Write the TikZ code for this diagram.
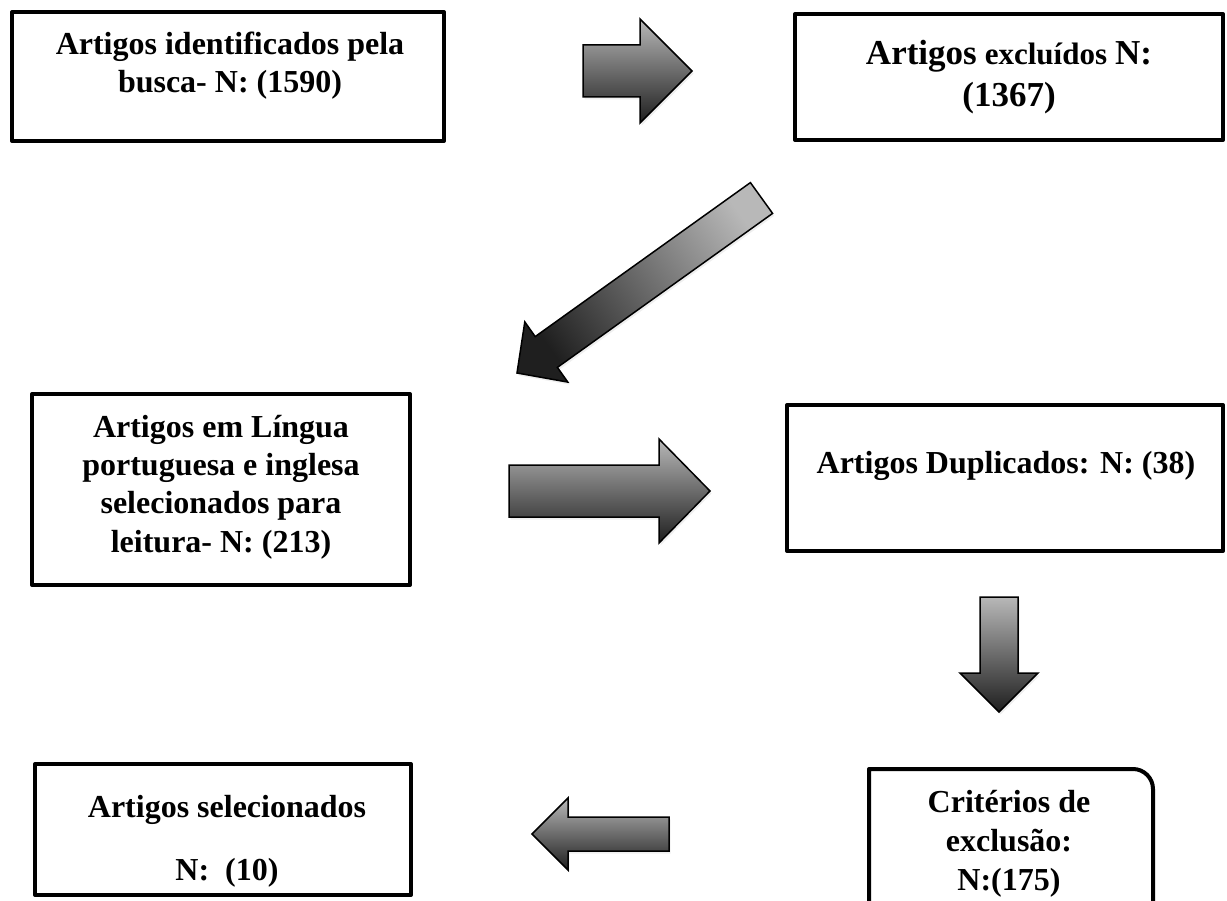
\documentclass[tikz,border=0pt]{standalone}
\usepackage{fontspec}
\setmainfont{Liberation Serif}
\usetikzlibrary{shadows}
\begin{document}
\begin{tikzpicture}[x=1pt,y=-1pt,
  boxline/.style={draw=black, line width=4pt, inner sep=0pt, outer sep=0pt, line join=round},
  lbl/.style={inner sep=0pt, outer sep=0pt, anchor=base, font=\bfseries\fontsize{32}{38}\selectfont},
  blockarrow/.style={draw=black, line width=1.5pt, line join=miter, top color=black!28, bottom color=black!88,
     drop shadow={opacity=0.12, shadow xshift=1.5pt, shadow yshift=-2.5pt}},
]
\clip (0,0) rectangle (1227,901);
\fill[white] (0,0) rectangle (1227,901);

% ---------- boxes ----------
\node[boxline, minimum width=432pt, minimum height=129pt] (b1) at (228,76.5) {};
\node[lbl] (t1a) at (230,55) {Artigos identificados pela};
\node[lbl] (t1b) at (230,93) {busca- N: (1590)};

\node[boxline, minimum width=428pt, minimum height=126pt] (b2) at (1009,77) {};
\node[lbl] (t2a) at (1009,65) {{\fontsize{35}{42}\selectfont Artigos} {\fontsize{31}{38}\selectfont excluídos} {\fontsize{35}{42}\selectfont N:}};
\node[lbl, font=\bfseries\fontsize{35}{42}\selectfont] (t2b) at (1009,107) {(1367)};

\node[boxline, minimum width=378pt, minimum height=191pt] (b3) at (221,489.5) {};
\node[lbl] (t3a) at (221,437) {Artigos em Língua};
\node[lbl] (t3b) at (221,475) {portuguesa e inglesa};
\node[lbl] (t3c) at (221,513) {selecionados para};
\node[lbl] (t3d) at (221,552) {leitura- N: (213)};

\node[boxline, minimum width=436pt, minimum height=146pt] (b4) at (1005,478) {};
\node[lbl] (t4) at (1006,473) {Artigos Duplicados: N: (38)};

\node[inner sep=0pt, outer sep=0pt, minimum width=284pt, minimum height=146pt] (b5) at (1011,842) {};
\draw[black, line width=4pt, line join=round]
  (b5.south west) -- (b5.north west) -- ([xshift=-20pt]b5.north east)
  .. controls ([xshift=-9pt]b5.north east) and ([yshift=-9pt]b5.north east) .. ([yshift=-20pt]b5.north east)
  -- (b5.south east);
\node[lbl] (t5a) at (1009,812) {Critérios de};
\node[lbl] (t5b) at (1009,851) {exclusão:};
\node[lbl] (t5c) at (1009,890) {N:(175)};

\node[boxline, minimum width=376pt, minimum height=131pt] (b6) at (223,829.5) {};
\node[lbl] (t6a) at (227,817) {Artigos selecionados};
\node[lbl] (t6b) at (227,880) {N:\ \ (10)};

% ---------- block arrows ----------
% b1 -> b2
\draw[blockarrow] (583,45) -- (640,45) -- (640,19) -- (692,71) -- (640,123) -- (640,97) -- (583,97) -- cycle;
% b2 -> b3 (diagonal)
\draw[blockarrow, shading angle=-54]
  (750.4,182.6) -- (772.6,213.4) -- (557.4,367.4) -- (567.8,382.1) -- (517,373)
  -- (524.8,321.9) -- (535.2,336.6) -- cycle;
% b3 -> b4
\draw[blockarrow] (509,465) -- (659,465) -- (659,439) -- (710,491) -- (659,543) -- (659,517) -- (509,517) -- cycle;
% b4 -> b5
\draw[blockarrow] (980,597) -- (1018,597) -- (1018,673) -- (1038,673) -- (999,712) -- (960,673) -- (980,673) -- cycle;
% b5 -> b6
\draw[blockarrow] (669,817) -- (669,851) -- (568,851) -- (568,870) -- (532,834) -- (568,798) -- (568,817) -- cycle;
\end{tikzpicture}
\end{document}
